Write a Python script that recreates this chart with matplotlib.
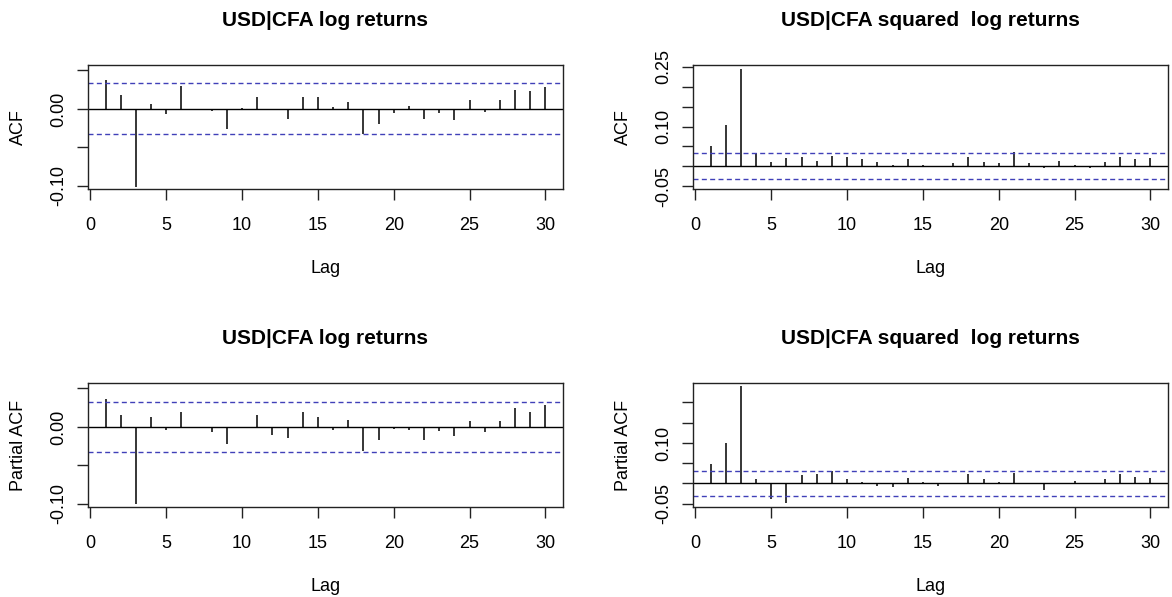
import matplotlib
matplotlib.use("Agg")
import matplotlib.pyplot as plt
import numpy as np

plt.rcParams["font.family"] = ["Liberation Sans", "DejaVu Sans"]

lags = np.arange(1, 31)

# ACF of log returns
acf_ret = [0.038, 0.018, -0.101, 0.006, -0.006, 0.030, -0.002, -0.003, -0.026, 0.001,
           0.016, -0.002, -0.0125, 0.016, 0.016, 0.002, 0.009, -0.032, -0.0195, -0.0056,
           0.004, -0.013, -0.0056, -0.0147, 0.011, -0.004, 0.011, 0.024, 0.023, 0.028]
# PACF of log returns
pacf_ret = [0.0356, 0.016, -0.1005, 0.0127, -0.004, 0.0195, -0.002, -0.006, -0.0216, 0.0005,
            0.016, -0.0106, -0.014, 0.0195, 0.013, -0.004, 0.009, -0.031, -0.017, -0.0025,
            -0.004, -0.017, -0.0055, -0.012, 0.0076, -0.007, 0.0076, 0.0246, 0.0195, 0.028]
# ACF of squared log returns
acf_sq = [0.050, 0.103, 0.245, 0.033, 0.011, 0.021, 0.024, 0.014, 0.027, 0.023,
          0.019, 0.011, 0.004, 0.018, 0.004, 0.001, 0.0075, 0.024, 0.011, 0.0075,
          0.037, 0.0075, -0.004, 0.014, 0.004, -0.004, 0.011, 0.024, 0.018, 0.021]
# PACF of squared log returns
pacf_sq = [0.0486, 0.1005, 0.240, 0.010, -0.038, -0.0486, 0.020, 0.023, 0.031, 0.010,
           0.003, -0.007, -0.009, 0.013, 0.003, -0.0066, 0.0005, 0.023, 0.010, 0.003,
           0.0255, 0.0005, -0.0157, 0.0005, 0.006, 0.0005, 0.010, 0.023, 0.0165, 0.013]

clim_ret = [0.033, 0.032]
clim_sq = [0.033, 0.031]

panels = [
    # (values, clim, ylim, yticks, ylabels, ylab, title, rect in px: left, top, right, bottom)
    (acf_ret, clim_ret[0], (-0.104, 0.057), [-0.10, -0.05, 0.00, 0.05], ["-0.10", "", "0.00", ""],
     "ACF", "USD|CFA log returns", (88, 65, 563, 189)),
    (acf_sq, clim_sq[0], (-0.057, 0.2545), [-0.05, 0.0, 0.05, 0.10, 0.15, 0.20, 0.25],
     ["-0.05", "", "", "0.10", "", "", "0.25"],
     "ACF", "USD|CFA squared  log returns", (693, 65, 1168, 189)),
    (pacf_ret, clim_ret[1], (-0.104, 0.057), [-0.10, -0.05, 0.00, 0.05], ["-0.10", "", "0.00", ""],
     "Partial ACF", "USD|CFA log returns", (88, 383, 563, 507)),
    (pacf_sq, clim_sq[1], (-0.058, 0.248), [-0.05, 0.0, 0.05, 0.10, 0.15, 0.20],
     ["-0.05", "", "", "0.10", "", ""],
     "Partial ACF", "USD|CFA squared  log returns", (693, 383, 1168, 507)),
]

W, H = 1172, 597
fig = plt.figure(figsize=(W / 100, H / 100), dpi=100)
blue = "#4040b8"

for vals, clim, ylim, yt, ytl, ylab, title, (l, t, r, b) in panels:
    ax = fig.add_axes([l / W, (H - b) / H, (r - l) / W, (b - t) / H])
    ax.vlines(lags, 0, vals, color="black", lw=1.1)
    ax.axhline(0, color="black", lw=1)
    ax.axhline(clim, color=blue, lw=1, ls=(0, (3.6, 2.4)))
    ax.axhline(-clim, color=blue, lw=1, ls=(0, (3.6, 2.4)))
    ax.set_xlim(-0.16, 31.16)
    ax.set_ylim(*ylim)
    ax.set_xticks(np.arange(0, 31, 5))
    ax.set_yticks(yt)
    ax.set_yticklabels(ytl, rotation=90, va="center")
    ax.tick_params(direction="out", length=8, width=1, labelsize=13, color="#222222")
    ax.tick_params(axis="x", pad=12)
    ax.tick_params(axis="y", pad=7)
    for s in ax.spines.values():
        s.set_linewidth(1)
        s.set_color("#222222")
    ax.set_xlabel("Lag", fontsize=13, labelpad=19)
    ax.set_ylabel(ylab, fontsize=13, labelpad=17)
    ax.set_title(title, fontsize=15, fontweight="bold", pad=28)

fig.savefig("out.png", dpi=100)
